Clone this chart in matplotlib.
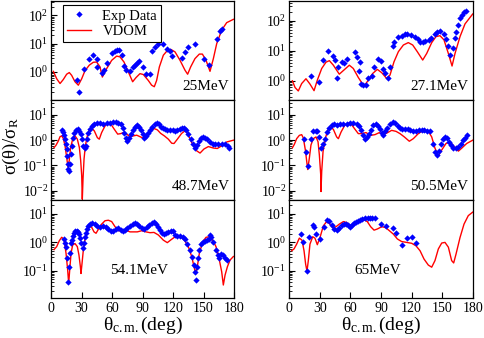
import matplotlib
matplotlib.use("Agg")
import matplotlib.pyplot as plt
from matplotlib.ticker import LogLocator, NullFormatter, FixedLocator

plt.rcParams['font.family'] = ['Liberation Serif', 'DejaVu Serif']
plt.rcParams['mathtext.fontset'] = 'custom'
plt.rcParams['mathtext.rm'] = 'Liberation Serif'
plt.rcParams['mathtext.it'] = 'Liberation Serif:italic'
plt.rcParams['mathtext.bf'] = 'Liberation Serif:bold'

# ---------------- 25 MeV ----------------
e25_exp_ang = [25.2, 27.5, 32.5, 37.4, 41.6, 44.9, 45.6, 50.2, 52.2, 55.1,
               59.7, 62.6, 64.6, 66.6, 70.2, 71.8, 73.8, 77.7, 80.3, 82.6,
               84.3, 86.2, 90.8, 93.1, 97.4, 99.7, 102.6, 105.6, 110.5, 113.8,
               116.7, 119.4, 128.5, 131.8, 134.4, 142.0, 150.5, 155.4, 163.3, 166.2,
               168.5]
e25_exp_val = [0.50, 0.195, 1.24, 2.95, 4.1, 2.95, 1.5, 0.92, 1.2, 2.1,
               4.5, 5.3, 5.9, 5.9, 4.1, 1.6, 1.2, 1.05, 1.5, 1.8,
               2.1, 2.45, 1.5, 0.83, 0.87, 5.6, 7.7, 10, 10, 6.7,
               5.4, 3.6, 3.2, 4.9, 7.7, 9.6, 2.8, 1.7, 14, 28,
               32]
e25_th_ang = [2.3, 5.6, 8.9, 12.1, 15.4, 18, 20.3, 23.6, 26.9, 30.2,
              33.4, 37.7, 41.6, 44.9, 48.2, 50.5, 54.8, 59.7, 64.6, 67.9,
              71.8, 76.1, 80.3, 83.6, 87.5, 90.8, 95.7, 99, 101.6, 103.9,
              106.6, 110.5, 114.8, 118, 122, 126.9, 131.8, 134.4, 137.4, 141.6,
              145.9, 148.9, 152.5, 156.4, 159.7, 163, 167.9, 172.8, 179.4]
e25_th_val = [1.05, 0.575, 0.39, 0.54, 0.83, 0.95, 0.76, 0.45, 0.34, 0.575,
              1.1, 1.74, 2.19, 2.24, 1.51, 0.66, 1.32, 2.57, 3.63, 3.4,
              2.24, 1.0, 0.45, 0.63, 0.87, 0.81, 0.50, 0.34, 0.30, 0.50,
              1.51, 3.9, 5.9, 6.2, 5.1, 2.57, 1.15, 0.83, 1.51, 2.95,
              4.27, 4.27, 2.57, 1.05, 2.95, 10, 30, 55, 72]

# ---------------- 27.1 MeV ----------------
e27_exp_ang = [21.5, 29.7, 32.9, 38.5, 42.7, 44.7, 47.3, 48.3, 51.5, 54.1,
               56.4, 64.2, 66.9, 68.5, 69.5, 70.1, 72.7, 75.3, 77.0, 81.2,
               83.2, 86.7, 90.3, 92.3, 93.6, 97.2, 98.8, 101.4, 102.7, 107.0,
               110.2, 113.5, 115.8, 119.0, 123.3, 126.5, 128.2, 130.8, 133.0, 137.3,
               138.6, 142.5, 144.5, 147.7, 151.6, 153.6, 155.5, 157.5, 160.1, 162.4,
               163.4, 165.0, 167.3, 168.9, 171.2, 173.2]
e27_exp_val = [1.5, 0.9, 4.9, 10, 6.8, 5.1, 1.2, 2.9, 4.1, 3.8,
               5.5, 8.8, 6.3, 2.2, 4.3, 0.8, 0.72, 0.72, 1.2, 1.5,
               2.9, 5.3, 4.5, 2.4, 1.85, 1.26, 2.9, 14, 19, 28,
               32, 35, 35, 33, 28, 24, 20, 19.5, 20.5, 23,
               27, 35, 42, 46, 36, 25, 14, 7.2, 12.6, 26,
               43, 72, 126, 158, 190, 210]
e27_th_ang = [3.3, 5.9, 9.1, 12.4, 16.6, 20.5, 24.5, 27.7, 32, 36.2,
              39.5, 43.4, 49.2, 53.8, 59, 62.9, 67.8, 73.4, 77.6, 81.8,
              86.4, 90.7, 95.5, 98.8, 102.7, 107, 111.9, 116.7, 121, 125.5,
              130.8, 134.7, 139.6, 143.8, 147.7, 151.6, 155.9, 159.5, 162.4, 167.3,
              172.2, 179.7]
e27_th_val = [1.0, 0.60, 0.46, 0.81, 1.17, 0.78, 0.47, 1.05, 2.57, 4.17,
              4.68, 3.3, 1.66, 2.29, 3.3, 2.57, 1.29, 0.66, 1.05, 1.74,
              2.4, 1.86, 1.2, 1.55, 4.27, 9.3, 15.5, 18.6, 15.5, 9.3,
              4.9, 8.1, 18.6, 29.5, 31.6, 23, 8.1, 3.1, 8.1, 29.5,
              78, 166]

# ---------------- 48.7 MeV ----------------
e48_exp_ang = [10.5, 12.1, 13.1, 14.1, 14.8, 15.4, 16.1, 16.7, 17.0, 17.7,
               18.7, 19.7, 20.3, 21.3, 22.6, 24.6, 26.6, 27.9, 29.2, 30.5,
               31.8, 33.1, 34.4, 35.7, 36.7, 38.4, 40.0, 42.3, 44.9, 48.2,
               51.5, 54.8, 58.0, 61.3, 63.9, 66.2, 68.5, 70.5, 72.1, 73.8,
               75.1, 76.4, 78.4, 80.3, 82.6, 84.9, 86.9, 88.5, 90.2, 91.5,
               93.1, 95.1, 97.4, 99.7, 102.0, 103.9, 105.9, 107.9, 109.9, 112.1,
               114.4, 117.1, 119.7, 122.0, 124.3, 126.9, 129.2, 131.2, 132.8, 135.1,
               137.4, 140.0, 141.7, 143.3, 145.3, 147.2, 149.2, 151.5, 153.8, 156.4,
               159.0, 161.7, 164.6, 167.9, 171.2, 174.1, 175.1]
e48_exp_val = [2.57, 2.14, 1.58, 1.1, 0.69, 0.45, 0.245, 0.115, 0.072, 0.063,
               0.115, 0.28, 0.60, 1.26, 2.0, 2.57, 2.69, 2.34, 1.74, 1.1,
               0.60, 0.47, 0.60, 1.1, 2.0, 2.88, 3.63, 4.47, 4.68, 4.68,
               4.47, 4.68, 4.9, 5.25, 5.37, 4.9, 4.27, 3.16, 2.0, 1.26,
               0.93, 1.17, 1.74, 2.57, 3.47, 3.9, 3.47, 2.57, 1.74, 1.26,
               1.48, 1.86, 2.57, 3.47, 4.27, 4.68, 4.27, 3.47, 2.95, 2.69,
               2.57, 2.57, 2.57, 2.34, 2.57, 2.88, 3.16, 2.95, 2.57, 1.74,
               1.1, 0.69, 0.51, 0.63, 0.93, 1.2, 1.38, 1.26, 1.1, 0.85,
               0.72, 0.69, 0.69, 0.74, 0.69, 0.60, 0.49]
e48_th_ang = [3, 4.9, 7.2, 8.9, 10.5, 12.1, 13.8, 15.4, 16.7, 17.7,
              19.3, 21.3, 23.6, 25.9, 27.9, 29.2, 30.2, 30.8, 31.5, 32.5,
              33.8, 35.7, 37.7, 40, 42.6, 45.6, 47.5, 49.8, 53.1, 56.4,
              59, 62.3, 65.6, 68.5, 71.2, 74.4, 77.7, 81, 84.3, 87.5,
              90.8, 94.1, 98, 101.6, 104.6, 107.9, 111.5, 115.4, 118.7, 121,
              124.3, 128.5, 131.8, 134.4, 138.4, 143.3, 146.6, 150.5, 154.8, 159.7,
              163.6, 167.9, 172.8, 179.4]
e48_th_val = [0.51, 0.63, 0.93, 1.38, 1.48, 1.17, 0.60, 0.21, 0.085, 0.13,
              0.51, 1.1, 1.48, 1.1, 0.51, 0.155, 0.040, 0.0046, 0.030, 0.18,
              0.60, 1.48, 2.57, 3.0, 2.34, 1.26, 1.1, 2.0, 3.63, 4.9,
              4.27, 2.69, 1.74, 1.82, 2.0, 1.74, 1.38, 1.48, 1.58, 1.38,
              1.2, 1.38, 2.34, 2.88, 2.57, 1.86, 1.48, 1.1, 0.76, 0.74,
              1.1, 1.86, 2.34, 1.86, 0.81, 0.38, 0.31, 0.45, 0.56, 0.49,
              0.47, 0.60, 0.85, 1.0]

# ---------------- 50.5 MeV ----------------
e50_exp_ang = [14.7, 16.6, 18.9, 21.5, 23.8, 26.4, 27.7, 29.7, 31.6, 33.6,
               35.5, 37.5, 39.5, 41.7, 44.3, 47.3, 49.9, 53.2, 56.4, 59.7,
               62.9, 66.2, 68.5, 70.1, 72.1, 74.0, 76.0, 77.9, 79.9, 82.5,
               85.1, 87.4, 89.0, 90.7, 92.3, 94.2, 96.2, 98.8, 101.4, 104.0,
               106.3, 108.6, 110.9, 113.5, 116.1, 118.7, 121.6, 124.2, 126.9, 129.8,
               132.4, 135.3, 137.9, 140.5, 142.8, 145.1, 147.1, 148.7, 150.3, 152.6,
               154.9, 156.9, 158.8, 160.8, 163.4, 165.7, 168.0, 169.9, 171.9, 174.5]
e50_exp_val = [1.07, 0.33, 0.093, 1.07, 2.24, 2.24, 2.24, 1.35, 0.50, 0.68,
               1.15, 2.09, 3.0, 4.07, 4.47, 4.17, 4.47, 4.47, 4.47, 4.8,
               4.8, 4.47, 3.55, 2.45, 1.55, 1.07, 1.35, 1.82, 2.45, 4.07,
               4.47, 3.55, 2.69, 2.0, 1.66, 2.24, 3.0, 4.47, 5.1, 4.8,
               3.8, 3.0, 2.69, 2.69, 2.69, 2.45, 2.29, 2.29, 2.45, 2.45,
               2.45, 2.24, 2.24, 0.68, 0.355, 0.26, 0.37, 0.74, 1.15, 1.35,
               1.23, 0.87, 0.65, 0.50, 0.48, 0.55, 0.74, 1.0, 1.23, 1.55]
e50_th_ang = [3.3, 5.2, 7.5, 10.1, 12.4, 14, 16, 18.3, 19.9, 21.5,
              23.8, 26.4, 28.4, 29.7, 31, 31.3, 32, 33.3, 35.5, 37.8,
              40.8, 43.4, 46.6, 48.3, 50.9, 54.8, 58, 61.3, 64.6, 67.8,
              71.1, 75.3, 79.9, 84.1, 88.4, 91.6, 95.5, 100.4, 104.7, 108.6,
              112.8, 117.7, 121.6, 126.5, 131.4, 136.3, 139.6, 142.8, 146.1, 149.4,
              153.6, 157.5, 161.7, 165.7, 168.9, 173.8, 179.7]
e50_th_val = [0.50, 0.68, 1.15, 1.55, 1.66, 1.23, 0.41, 0.069, 0.195, 0.65,
              1.15, 1.35, 0.87, 0.26, 0.045, 0.0093, 0.059, 0.355, 1.15, 2.45,
              3.3, 2.69, 1.35, 1.15, 2.09, 4.07, 4.8, 4.07, 2.69, 1.82,
              1.82, 2.0, 1.55, 1.66, 2.0, 1.66, 1.9, 2.45, 2.24, 1.82,
              1.35, 0.91, 1.15, 1.82, 2.45, 2.24, 1.35, 0.48, 0.245, 0.41,
              0.74, 0.87, 0.55, 0.37, 0.48, 0.74, 1.0]

# ---------------- 54.1 MeV ----------------
e54_exp_ang = [13.1, 14.1, 15.1, 16.1, 16.7, 18.0, 18.7, 19.7, 20.7, 21.3,
               22.3, 23.6, 25.2, 26.6, 27.9, 28.9, 29.8, 31.1, 32.5, 33.8,
               34.4, 35.7, 36.7, 38.4, 40.7, 43.3, 45.6, 48.2, 51.5, 54.1,
               56.4, 58.7, 61.3, 63.9, 66.2, 68.5, 70.5, 72.8, 75.1, 77.7,
               80.3, 82.6, 84.9, 86.9, 89.2, 91.5, 94.1, 96.7, 99.0, 101.3,
               103.3, 105.3, 107.2, 109.2, 111.2, 113.1, 115.4, 117.7, 119.7, 122.0,
               124.3, 126.9, 129.5, 131.8, 134.1, 136.7, 138.7, 140.7, 141.7, 142.6,
               143.6, 144.6, 145.9, 147.2, 149.2, 151.2, 153.1, 155.1, 156.4, 157.7,
               159.7, 162.3, 164.3, 165.6, 167.6, 169.5, 171.2, 172.8]
e54_exp_val = [1.29, 0.98, 0.71, 0.275, 0.042, 0.14, 0.41, 0.98, 1.2, 1.66,
               2.19, 2.5, 2.57, 2.24, 1.9, 1.45, 0.98, 0.62, 0.98, 1.51,
               2.09, 2.88, 3.72, 4.37, 4.68, 4.37, 3.72, 3.55, 3.72, 3.4,
               2.88, 2.57, 2.57, 2.88, 3.1, 2.69, 2.57, 2.69, 3.1, 3.72,
               4.37, 4.68, 4.37, 3.72, 3.1, 2.88, 3.4, 4.07, 4.68, 5.0,
               4.37, 3.55, 2.69, 2.09, 1.9, 2.09, 2.34, 2.57, 2.5, 1.82,
               1.66, 1.66, 1.51, 1.29, 0.87, 0.54, 0.32, 0.16, 0.093, 0.048,
               0.14, 0.275, 0.54, 0.91, 1.05, 1.15, 1.2, 1.29, 1.82, 1.51,
               1.05, 0.56, 0.36, 0.275, 0.39, 0.36, 0.275, 0.24]
e54_th_ang = [3, 5.6, 8.2, 10.5, 12.8, 14.8, 16.4, 17.4, 18.4, 19.7,
              21.3, 23.6, 25.9, 27.5, 28.9, 29.5, 30.5, 31.8, 33.8, 35.7,
              37.7, 40, 42.3, 44.3, 46.6, 49.8, 53.1, 56.4, 59.7, 63,
              66.2, 69.5, 73.8, 77.7, 81, 84.9, 89.2, 93.5, 97.4, 101.3,
              105.6, 110.5, 114.4, 118.7, 123, 126.9, 131.2, 135.1, 138.4, 140.7,
              142.3, 143.9, 145.9, 149.2, 152.5, 155.8, 159, 162.3, 165.6, 167.9,
              169.5, 171.2, 173.5, 176.1, 179.4]
e54_th_val = [0.56, 0.71, 1.15, 1.51, 1.29, 0.41, 0.107, 0.036, 0.107, 0.41,
              0.81, 0.91, 0.71, 0.36, 0.14, 0.081, 0.18, 0.54, 1.58, 3.1,
              4.07, 3.4, 2.34, 2.09, 2.88, 4.37, 5.75, 6.0, 5.37, 3.55,
              2.57, 2.57, 2.69, 2.34, 2.34, 2.34, 2.57, 2.34, 2.19, 2.24,
              1.82, 1.2, 0.98, 1.29, 1.66, 1.66, 1.2, 0.71, 0.32, 0.14,
              0.078, 0.14, 0.41, 1.05, 1.51, 1.58, 1.2, 0.71, 0.24, 0.093,
              0.032, 0.071, 0.14, 0.24, 0.32]

# ---------------- 65 MeV ----------------
e65_exp_ang = [11.4, 14.0, 17.3, 19.9, 23.2, 24.5, 26.4, 30.3, 34.6, 37.5,
               39.5, 41.7, 44.3, 46.6, 49.2, 51.5, 53.8, 55.8, 58.0, 59.7,
               61.3, 63.6, 65.5, 67.5, 69.5, 71.7, 74.4, 77.0, 79.2, 81.5,
               83.8, 90.0, 94.9, 101.4, 104.4, 110.2, 115.1, 120.0, 123.9]
e65_exp_val = [2.04, 1.0, 0.10, 1.58, 4.17, 3.55, 2.04, 1.32, 3.55, 6.2,
               5.75, 4.17, 2.95, 2.69, 3.3, 4.17, 4.57, 4.37, 4.0, 3.55,
               4.17, 4.68, 5.37, 5.75, 6.2, 6.5, 6.9, 6.9, 6.9, 6.9,
               7.1, 4.37, 3.63, 3.3, 2.14, 0.81, 1.48, 1.58, 0.93]
e65_th_ang = [2.6, 4.9, 7.5, 10.1, 12.7, 14.7, 16.3, 17.6, 18.9, 20.5,
              23.2, 25.4, 27.7, 30.3, 33.6, 36.8, 39.5, 42.7, 46, 49.2,
              53.2, 56.4, 60.3, 64.6, 69.5, 73.4, 76.6, 79.9, 83.2, 86.4,
              90.7, 94.6, 98.2, 102.1, 106, 110.2, 115.1, 120, 124.2, 128.2,
              132.1, 136.3, 139.6, 142.8, 146.1, 149.4, 152.6, 155.9, 159.1, 161.1,
              163.4, 167.3, 171.2, 175.4, 179.7]
e65_th_val = [0.51, 0.59, 0.87, 1.41, 1.2, 0.51, 0.17, 0.098, 0.23, 0.87,
              1.58, 1.41, 0.83, 1.48, 3.8, 5.37, 4.57, 3.3, 3.55, 4.37,
              5.37, 5.0, 3.8, 4.17, 5.37, 6.2, 5.37, 3.55, 2.69, 2.95,
              3.55, 3.3, 2.57, 1.95, 1.32, 1.07, 1.0, 0.93, 0.76, 0.51,
              0.26, 0.16, 0.135, 0.23, 0.59, 0.95, 1.0, 0.68, 0.23, 0.19,
              0.39, 1.48, 4.37, 8.7, 11.5]

energy_labels = ["25MeV", "27.1MeV", "48.7MeV", "50.5MeV", "54.1MeV", "65MeV"]
x_ticks = [0, 30, 60, 90, 120, 150, 180]

W, H = 485, 338
fig = plt.figure(figsize=(W / 100, H / 100), dpi=100)

cols = [(51, 234), (289, 473)]
rows = [(1, 100), (100, 199.5), (199.5, 298)]


def make_ax(r, c):
    x0, x1 = cols[c]
    y0, y1 = rows[r]
    return fig.add_axes([x0 / W, 1 - y1 / H, (x1 - x0) / W, (y1 - y0) / H])


panels = [
    (0, 0, e25_exp_ang, e25_exp_val, e25_th_ang, e25_th_val, (0.102, 320)),
    (0, 1, e27_exp_ang, e27_exp_val, e27_th_ang, e27_th_val, (0.23, 450)),
    (1, 0, e48_exp_ang, e48_exp_val, e48_th_ang, e48_th_val, (0.0045, 39)),
    (1, 1, e50_exp_ang, e50_exp_val, e50_th_ang, e50_th_val, (0.0045, 39)),
    (2, 0, e54_exp_ang, e54_exp_val, e54_th_ang, e54_th_val, (0.0112, 32)),
    (2, 1, e65_exp_ang, e65_exp_val, e65_th_ang, e65_th_val, (0.0112, 32)),
]

axes = []
for i, (r, c, ea, ev, ta, tv, ylim) in enumerate(panels):
    ax = make_ax(r, c)
    axes.append(ax)
    ax.plot(ta, tv, color='#ff0000', lw=1.0, label='VDOM', zorder=2)
    ax.plot(ea, ev, linestyle='none', marker='D', ms=3.2, mew=0,
            color='#0000ff', label='Exp Data', zorder=3)
    ax.set_yscale('log')
    ax.set_xlim(0, 180)
    ax.set_ylim(*ylim)
    ax.yaxis.set_major_locator(LogLocator(base=10, numticks=10))
    ax.tick_params(axis='y', which='major', direction='in', length=4, width=0.8,
                   labelsize=10, pad=2, right=False)
    ax.tick_params(axis='y', which='minor', direction='in', length=2, width=0.6,
                   right=False)
    for sp in ax.spines.values():
        sp.set_linewidth(0.9)
    if r == 2:
        ax.xaxis.set_major_locator(FixedLocator(x_ticks))
        ax.tick_params(axis='x', which='major', direction='in', length=4,
                       width=0.8, labelsize=10, pad=3, top=False)
        ax.set_xlabel(r'θ$_{\mathrm{c.m.}}$(deg)', fontsize=14, labelpad=0)
    else:
        ax.tick_params(axis='x', which='both', bottom=False, top=False,
                       labelbottom=False)
    ax.minorticks_on()
    ax.xaxis.set_minor_locator(FixedLocator([]))
    ax.yaxis.set_minor_locator(LogLocator(base=10, subs=range(2, 10), numticks=20))
    ax.yaxis.set_minor_formatter(NullFormatter())

    if r < 2:
        ax.text(0.975, 0.07, energy_labels[i], transform=ax.transAxes,
                ha='right', va='bottom', fontsize=11)
    else:
        ax.text(0.48, 0.21, energy_labels[i], transform=ax.transAxes,
                ha='center', va='bottom', fontsize=11)

leg = axes[0].legend(handles=axes[0].get_lines()[::-1], loc='upper left',
                     bbox_to_anchor=(0.066, 0.96), borderaxespad=0,
                     fontsize=10.5, frameon=True, fancybox=False,
                     edgecolor='black', framealpha=1, handlelength=1.6,
                     handletextpad=0.8, borderpad=0.3, labelspacing=0.15)
leg.get_frame().set_linewidth(0.8)

fig.text(11 / W, 1 - 146 / H, r'σ(θ)/σ$_{\mathrm{R}}$', rotation=90,
         ha='center', va='center', fontsize=13.5)

fig.savefig('out.png', dpi=100)
